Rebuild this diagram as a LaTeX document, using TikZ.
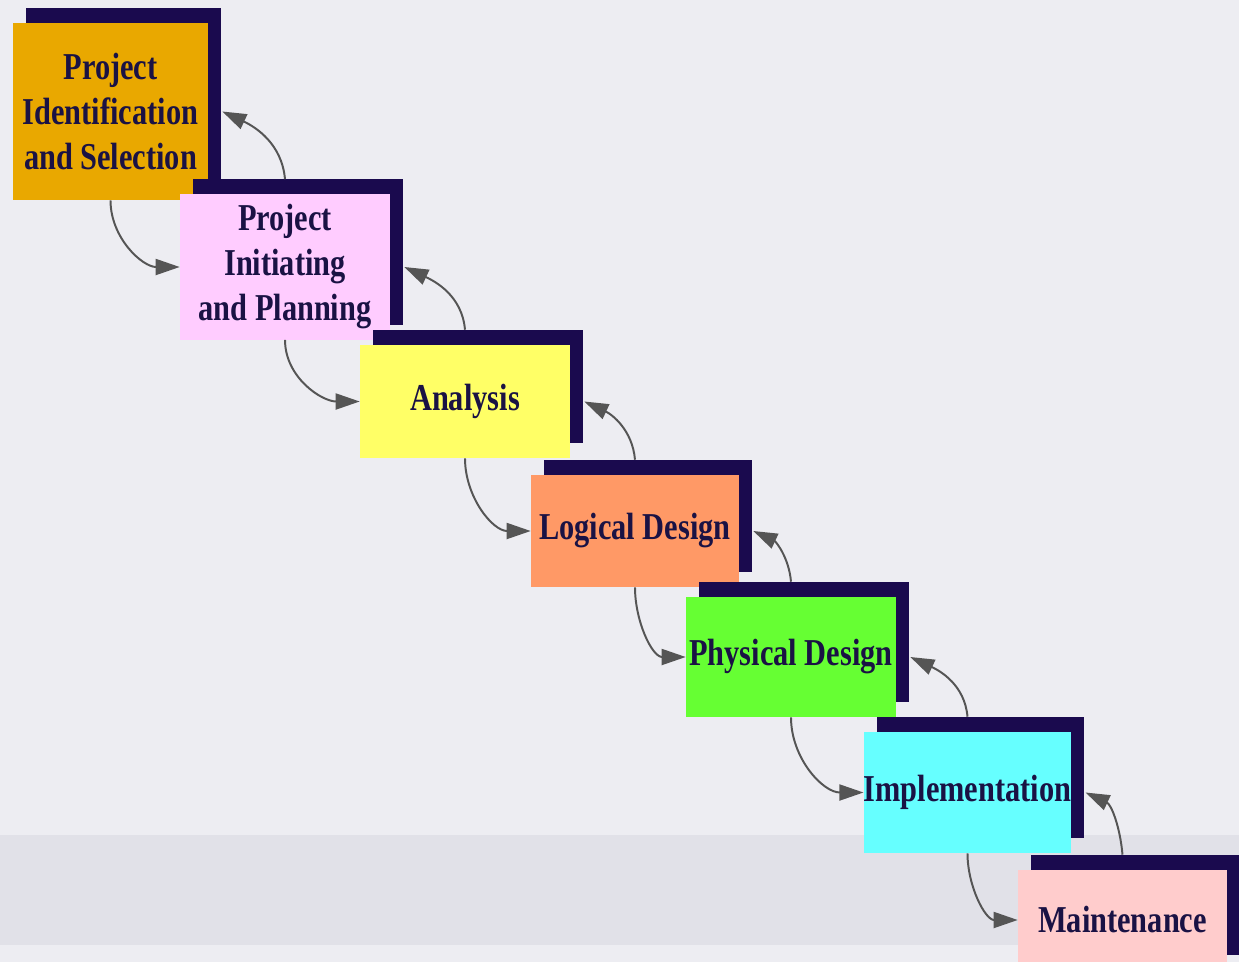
\documentclass[tikz,border=0pt]{standalone}
\usepackage{fontspec}
\setmainfont{Liberation Serif}[FakeStretch=0.8]
\usepackage{xcolor}
\usepackage{tikz}
\usetikzlibrary{arrows.meta,positioning,shadows}
\definecolor{ink}{HTML}{1A1244}
\definecolor{stepshade}{HTML}{1A0A4E}
\definecolor{paper}{HTML}{EDEDF2}
\definecolor{band}{HTML}{E1E1E8}
\definecolor{wire}{HTML}{555555}
\definecolor{gold}{HTML}{E9A800}
\definecolor{lilac}{HTML}{FFCCFF}
\definecolor{lemon}{HTML}{FFFF66}
\definecolor{salmon}{HTML}{FF9966}
\definecolor{leaf}{HTML}{66FF33}
\definecolor{aqua}{HTML}{66FFFF}
\definecolor{blush}{HTML}{FFCCCC}
\tikzset{
  phase/.style={inner sep=0pt,align=center,text=ink,
                font=\fontsize{27}{32}\selectfont\bfseries,
                drop shadow={shadow xshift=0.325cm,shadow yshift=0.375cm,
                             fill=stepshade,opacity=1}},
  fwd/.style  ={-{Triangle[length=6mm,width=4mm]},line width=1.4pt,draw=wire,
                out=-90,in=180},
  bwd/.style  ={-{Triangle[length=6mm,width=4mm]},line width=1.4pt,draw=wire,
                out=95,in=-25}
}

\begin{document}
\begin{tikzpicture}[x=0.025cm,y=-0.025cm]
        \useasboundingbox (0,0) rectangle (1239,962);
        \clip (0,0) rectangle (1239,962);
        \fill[paper] (0,0) rectangle (1239,962);
        \fill[band] (0,835) rectangle (1239,945);
        \node[phase,fill=gold,minimum width=4.875cm,minimum height=4.425cm] (ident)
          at (110.5,111.5) {Project\\Identification\\and Selection};
        \node[phase,fill=lilac,minimum width=5.25cm,minimum height=3.625cm] (init)
          at (285,267) {Project\\Initiating\\and Planning};
        \node[phase,fill=lemon,minimum width=5.25cm,minimum height=2.825cm] (anal)
          at (465,401.5) {Analysis};
        \node[phase,fill=salmon,minimum width=5.2cm,minimum height=2.8cm] (logic)
          at (635,531) {Logical Design};
        \node[phase,fill=leaf,minimum width=5.25cm,minimum height=3cm] (phys)
          at (791,657) {Physical Design};
        \node[phase,fill=aqua,minimum width=5.175cm,minimum height=3.025cm] (impl)
          at (967.5,792.5) {Implementation};
        \node[phase,fill=blush,minimum width=5.225cm,minimum height=2.5cm] (maint)
          at (1122.5,920) {Maintenance};
        \foreach \a/\b in {ident/init,init/anal,anal/logic,logic/phys,phys/impl,impl/maint}{
          \draw[fwd] (\a.south) to (\b.west);
          \draw[bwd] ([yshift=0.375cm]\b.north) to ([xshift=0.35cm]\a.east);
        }
      \end{tikzpicture}
\end{document}
